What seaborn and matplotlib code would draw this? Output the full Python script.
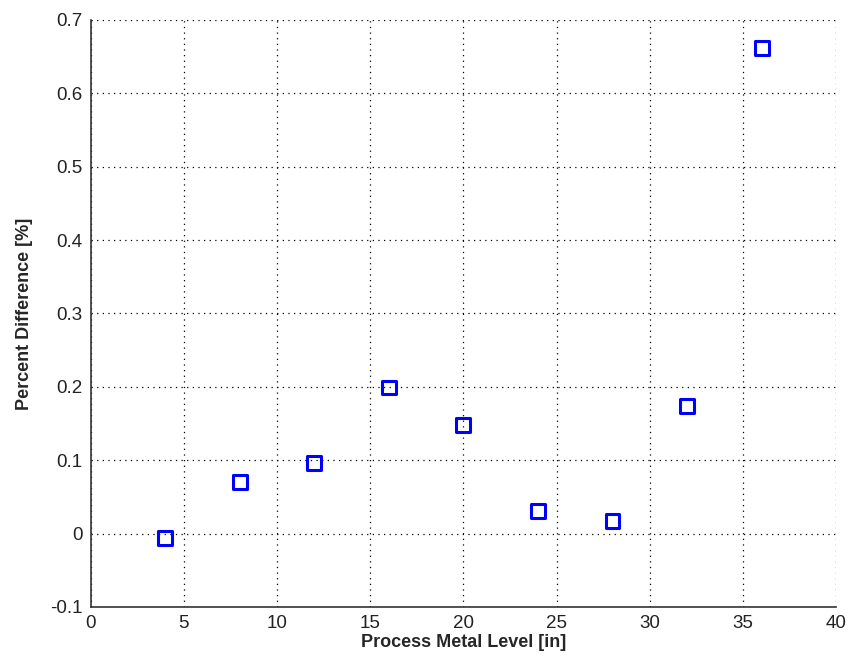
import matplotlib
matplotlib.use("Agg")
import matplotlib.pyplot as plt
import seaborn as sns
import pandas as pd

# data
metal_level = [4, 8, 12, 16, 20, 24, 28, 32, 36]
pct_diff = [-0.006, 0.070, 0.096, 0.199, 0.148, 0.031, 0.017, 0.174, 0.662]
x_ticks = [0, 5, 10, 15, 20, 25, 30, 35, 40]
y_ticks = [-0.1, 0, 0.1, 0.2, 0.3, 0.4, 0.5, 0.6, 0.7]
y_tick_labels = ["-0.1", "0", "0.1", "0.2", "0.3", "0.4", "0.5", "0.6", "0.7"]

df = pd.DataFrame({"level": metal_level, "diff": pct_diff})

sns.set_style("white")
plt.rcParams["font.family"] = ["Liberation Sans", "DejaVu Sans"]

fig = plt.figure(figsize=(8.48, 6.71), dpi=100)
ax = fig.add_axes([0.107, 0.0954, 0.879, 0.875])

sns.scatterplot(data=df, x="level", y="diff", ax=ax, marker="s", s=100,
                facecolor="none", edgecolor="#0000ff", linewidth=2.2, zorder=3)

ax.set_xlim(0, 40)
ax.set_ylim(-0.1, 0.7)
ax.set_xticks(x_ticks)
ax.set_yticks(y_ticks)
ax.set_yticklabels(y_tick_labels)
ax.grid(True, linestyle=(0, (1, 3.5)), color="black", linewidth=0.9)
ax.tick_params(direction="in", length=5, width=1, labelsize=13.5, colors="#333333",
               labelcolor="#222222", pad=6)
for side in ["top", "right"]:
    ax.spines[side].set_visible(False)
for side in ["left", "bottom"]:
    ax.spines[side].set_color("#333333")
    ax.spines[side].set_linewidth(1.2)

ax.set_xlabel("Process Metal Level [in]", fontsize=13, fontweight="bold", labelpad=1)
ax.set_ylabel("Percent Difference [%]", fontsize=13, fontweight="bold", labelpad=12)

fig.savefig("out.png", dpi=100)
